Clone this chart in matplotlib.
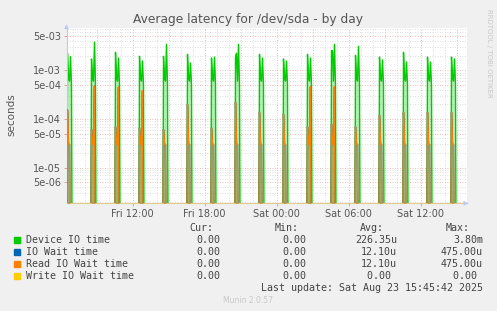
import matplotlib.pyplot as plt
import numpy as np
from matplotlib.patches import Rectangle

plt.rcParams["font.family"] = "DejaVu Sans"

W, H = 497, 311
STEP = 5 / 60  # one sample per 5 minutes
X_START = 6.5  # hours since Fri 00:00
X_END = X_START + 400 * STEP
Y_MIN, Y_MAX = 1.86e-6, 7.28e-3
FLOOR = 1e-9

# start of each burst (hours since Fri 00:00)
spike_hours = [6.5833, 8.5833, 10.5833, 12.5833, 14.5833, 16.5833, 18.5833, 20.5833,
               22.5833, 24.5833, 26.5833, 28.5833, 30.5833, 32.5833, 34.5833, 36.5833, 38.5833]

# Device IO time samples inside each burst (s)
device_a = [2.23e-3, 1.71e-3, 2.34e-3, 1.94e-3, 1.94e-3, 2.13e-3, 1.79e-3, 1.87e-3, 2.13e-3,
            1.71e-3, 2.13e-3, 2.57e-3, 2.03e-3, 1.87e-3, 2.34e-3, 1.87e-3, 1.87e-3]
device_mid1 = [7e-4, 7e-4, 7e-4, 7e-4, 7e-4, 7e-4, 7e-4, 2.23e-3, 7e-4,
               7e-4, 7e-4, 2.49e-3, 7e-4, 7e-4, 7e-4, 7e-4, 7e-4]
device_mid2 = [6e-4, 6e-4, 6e-4, 6e-4, 6e-4, 6e-4, 6e-4, 6e-4, 6e-4,
               6e-4, 6e-4, 6e-4, 6e-4, 6e-4, 6e-4, 6e-4, 6e-4]
device_b = [1.90e-3, 3.80e-3, 1.79e-3, 1.55e-3, 3.42e-3, 1.41e-3, 1.87e-3, 3.42e-3, 1.79e-3,
            1.55e-3, 1.79e-3, 3.42e-3, 3.11e-3, 1.63e-3, 1.48e-3, 1.48e-3, 1.71e-3]
device_tail = [5e-4, 5e-4, 5e-4, 5e-4, 5e-4, 5e-4, 5e-4, 5e-4, 5e-4,
               5e-4, 5e-4, 5e-4, 5e-4, 5e-4, 5e-4, 5e-4, 5e-4]

# Read IO wait time (IO wait time is identical)
read_a = [1.53e-4, 6.2e-5, 6.95e-5, 6.45e-5, 6.1e-5, 2.0e-4, 6.5e-5, 2.2e-4, 1.37e-4,
          1.25e-4, 6.9e-5, 7.9e-5, 6.9e-5, 1.2e-4, 1.37e-4, 1.37e-4, 1.37e-4]
read_mid = [3e-5, 3e-5, 3e-5, 3e-5, 3e-5, 3e-5, 3e-5, 3e-5, 3e-5,
            3e-5, 3e-5, 3e-5, 3e-5, 3e-5, 3e-5, 3e-5, 3e-5]
read_b = [0, 4.75e-4, 4.48e-4, 3.81e-4, 0, 0, 0, 0, 0,
          0, 4.6e-4, 4.6e-4, 0, 0, 0, 0, 0]

y_ticks = [5e-6, 1e-5, 5e-5, 1e-4, 5e-4, 1e-3, 5e-3]
y_labels = ["5e-06", "1e-05", "5e-05", "1e-04", "5e-04", "1e-03", "5e-03"]
x_ticks = [12, 18, 24, 30, 36]
x_labels = ["Fri 12:00", "Fri 18:00", "Sat 00:00", "Sat 06:00", "Sat 12:00"]

legend_names = ["Device IO time", "IO Wait time", "Read IO Wait time", "Write IO Wait time"]
legend_colors = ["#00CC00", "#0066B3", "#FF8000", "#FFCC00"]
cur_vals = ["0.00", "0.00", "0.00", "0.00"]
min_vals = ["0.00", "0.00", "0.00", "0.00"]
avg_vals = ["226.35u", "12.10u", "12.10u", "0.00 "]
max_vals = ["3.80m", "475.00u", "475.00u", "0.00 "]

# build the 5-minute series
hours = X_START + STEP * np.arange(400)
device = np.zeros(len(hours))
read = np.zeros(len(hours))
for i, h in enumerate(spike_hours):
    j = int(round((h - X_START) / STEP))
    device[j:j + 5] = [device_a[i], device_mid1[i], device_mid2[i], device_b[i], device_tail[i]]
    read[j:j + 4] = [read_a[i], read_mid[i], read_mid[i], read_b[i]]
device_p = np.where(device > 0, device, FLOOR)
read_p = np.where(read > 0, read, FLOOR)

fig = plt.figure(figsize=(W / 100, H / 100), dpi=100, facecolor="#F0F0F0")
ax = fig.add_axes([66.5 / W, 1 - 203.3 / H, 400 / W, 175 / H])
ax.set_facecolor("white")
ax.set_yscale("log")
ax.set_xlim(X_START, X_END)
ax.set_ylim(Y_MIN, Y_MAX)

# munin style grid
for dec in [1e-6, 1e-5, 1e-4, 1e-3]:
    for m in range(1, 10):
        v = m * dec
        if Y_MIN < v < Y_MAX:
            major = m in (1, 5)
            ax.axhline(v, color="#EFA0A0" if major else "#D4D4D4", lw=0.6,
                       ls=(0, (1, 2)), zorder=0.5)
for h in range(7, 40):
    ax.axvline(h, color="#EFA0A0" if h % 3 == 0 else "#D4D4D4", lw=0.6,
               ls=(0, (1, 2)), zorder=0.5)

ax.fill_between(hours, device_p, FLOOR, color="#00CC00", alpha=0.3, lw=0, zorder=1)
ax.plot(hours, device_p, color="#00CC00", lw=1, zorder=2)
ax.fill_between(hours, read_p, FLOOR, color="#9A7A38", alpha=0.55, lw=0, zorder=3)
ax.plot(hours, read_p, color="#0066B3", lw=1, zorder=3)
ax.plot(hours, read_p, color="#FF8000", lw=1, zorder=4)

for side in ["top", "right"]:
    ax.spines[side].set_visible(False)
ax.spines["left"].set_color("#C0C8F0")
ax.spines["bottom"].set_color("#E0CC88")
ax.annotate("", xy=(0, 1.04), xytext=(0, 0.99), xycoords="axes fraction",
            arrowprops=dict(arrowstyle="-|>", color="#C0C8F0", lw=0.8, mutation_scale=6),
            annotation_clip=False)
ax.annotate("", xy=(1.012, 0), xytext=(0.995, 0), xycoords="axes fraction",
            arrowprops=dict(arrowstyle="-|>", color="#C0C8F0", lw=0.8, mutation_scale=6),
            annotation_clip=False)

ax.set_yticks(y_ticks)
ax.set_yticklabels(y_labels)
ax.yaxis.set_minor_locator(plt.NullLocator())
ax.set_xticks(x_ticks)
ax.set_xticklabels(x_labels)
ax.tick_params(labelsize=7, colors="#555555", length=2, width=0.6, pad=2)
ax.tick_params(axis="both", color="#E09090")

fig.text(248 / W, 1 - 19 / H, "Average latency for /dev/sda - by day", ha="center",
         va="center", fontsize=8.8, color="#555555")
fig.text(11 / W, 1 - 115 / H, "seconds", rotation=90, ha="center", va="center",
         fontsize=7.5, color="#555555")
fig.text(489 / W, 1 - 53 / H, "RRDTOOL / TOBI OETIKER", rotation=270, ha="center",
         va="center", fontsize=5, color="#C8C8C8")

mono = dict(family="DejaVu Sans Mono", fontsize=7.2, color="#444444", va="center")
fig.text(213 / W, 1 - 228.3 / H, "Cur:", ha="right", **mono)
fig.text(299 / W, 1 - 228.3 / H, "Min:", ha="right", **mono)
fig.text(384 / W, 1 - 228.3 / H, "Avg:", ha="right", **mono)
fig.text(470 / W, 1 - 228.3 / H, "Max:", ha="right", **mono)
for k, name in enumerate(legend_names):
    y = 239.7 + 12 * k
    fig.patches.append(Rectangle((14 / W, 1 - (y + 3) / H), 6 / W, 6 / H,
                                 transform=fig.transFigure, color=legend_colors[k]))
    fig.text(26.3 / W, 1 - y / H, name, ha="left", **mono)
    fig.text(220 / W, 1 - y / H, cur_vals[k], ha="right", **mono)
    fig.text(306 / W, 1 - y / H, min_vals[k], ha="right", **mono)
    fig.text(397 / W, 1 - y / H, avg_vals[k], ha="right", **mono)
    fig.text(483 / W, 1 - y / H, max_vals[k], ha="right", **mono)
fig.text(483 / W, 1 - 287.7 / H, "Last update: Sat Aug 23 15:45:42 2025", ha="right", **mono)
fig.text(248 / W, 1 - 300.3 / H, "Munin 2.0.57", ha="center", va="center",
         fontsize=5.5, color="#C8C8C8")

fig.savefig("out.png", dpi=100, facecolor=fig.get_facecolor())
